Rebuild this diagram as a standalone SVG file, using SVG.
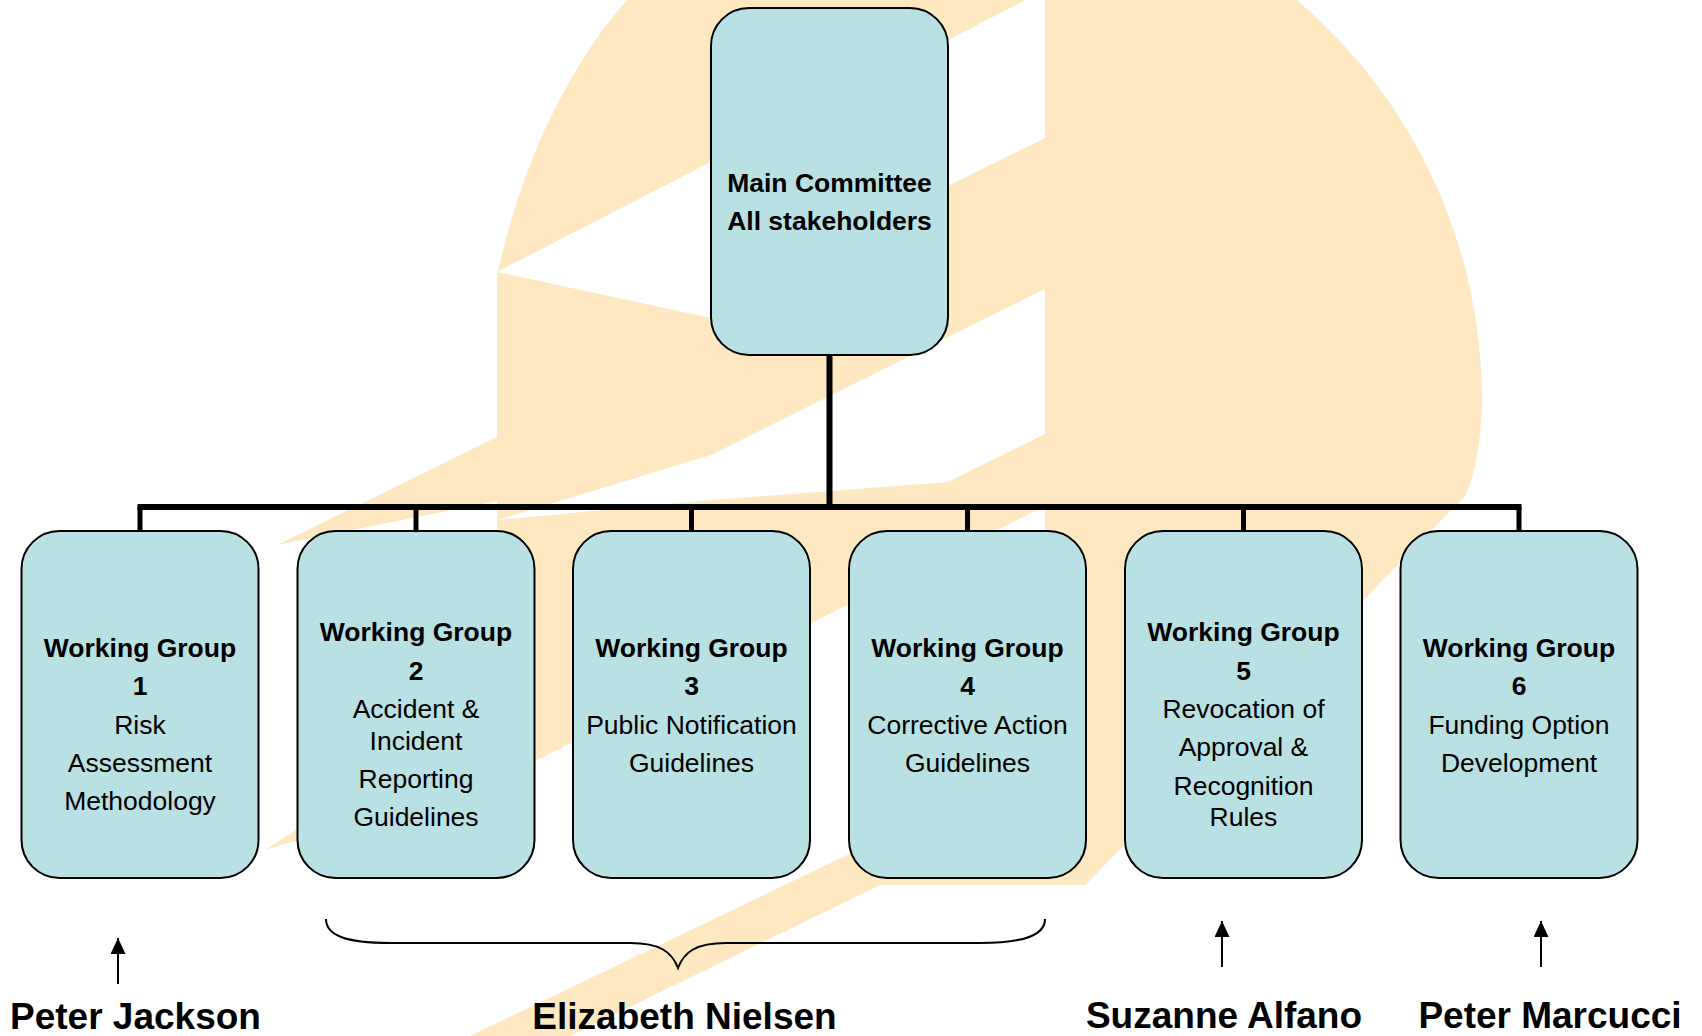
<svg xmlns="http://www.w3.org/2000/svg" width="1702" height="1036" viewBox="0 0 1702 1036">
<defs>
<style>
.wm{fill:#FDE8C2;stroke:none}
.wb{fill:#FFFFFF;stroke:none}
.box{fill:#B9E0E3;stroke:#000;stroke-width:2}
.t{font-family:"Liberation Sans",Arial,sans-serif;font-size:26.5px;text-anchor:middle;fill:#000}
.bd{font-weight:bold}
.nm{font-family:"Liberation Sans",Arial,sans-serif;font-size:37px;font-weight:bold;text-anchor:middle;fill:#000}
.ln{stroke:#000;fill:none}
</style>
<marker id="ah" viewBox="0 0 16 15" refX="16" refY="7.5" markerWidth="16" markerHeight="15" orient="auto" markerUnits="userSpaceOnUse">
<path d="M0,0 L16,7.5 L0,15 Z" fill="#000"/>
</marker>
</defs>
<rect width="1702" height="1036" fill="#FFFFFF"/>
<g id="watermark">
<path class="wm" d="M627,0 L1297,0 A525,525 0 0 1 1482,400 C1481,440 1476,470 1466,495 L1100,870 L1085,885 L1045,885 L1045,506 L497,780 L497,276 C520,170 565,70 627,0 Z"/>
<polygon class="wb" points="497,272 1045,-10 1045,138 948,186 711,318"/>
<polygon class="wb" points="497,520 711,455 948,337 1045,289 1045,434 948,482 711,500"/>
<polygon class="wm" points="277,545 497,437 497,501"/>
<polygon class="wm" points="265,850 497,700 497,780"/>
<polygon class="wm" points="470,1036 1045,760 1045,885 880,885 570,1036"/>
</g>
<g id="connectors">
<line class="ln" x1="829.5" y1="355" x2="829.5" y2="507" stroke-width="6"/>
<line class="ln" x1="137.5" y1="507" x2="1521.5" y2="507" stroke-width="6"/>
<line class="ln" x1="140" y1="507" x2="140" y2="531" stroke-width="5"/>
<line class="ln" x1="416" y1="507" x2="416" y2="531" stroke-width="5"/>
<line class="ln" x1="691.5" y1="507" x2="691.5" y2="531" stroke-width="5"/>
<line class="ln" x1="967.5" y1="507" x2="967.5" y2="531" stroke-width="5"/>
<line class="ln" x1="1243.5" y1="507" x2="1243.5" y2="531" stroke-width="5"/>
<line class="ln" x1="1519" y1="507" x2="1519" y2="531" stroke-width="5"/>
</g>
<g id="main-committee">
<rect class="box" x="711" y="8" width="237" height="347" rx="38" ry="38"/>
<text class="t bd" x="829.5" y="192">Main Committee</text>
<text class="t bd" x="829.5" y="230">All stakeholders</text>
</g>
<g id="wg1">
<rect class="box" x="21.5" y="531" width="237" height="347" rx="38" ry="38"/>
<text class="t bd" x="140" y="657">Working Group</text>
<text class="t bd" x="140" y="695">1</text>
<text class="t" x="140" y="734">Risk</text>
<text class="t" x="140" y="772">Assessment</text>
<text class="t" x="140" y="810">Methodology</text>
</g>
<g id="wg2">
<rect class="box" x="297.5" y="531" width="237" height="347" rx="38" ry="38"/>
<text class="t bd" x="416" y="641">Working Group</text>
<text class="t bd" x="416" y="680">2</text>
<text class="t" x="416" y="718">Accident &amp;</text>
<text class="t" x="416" y="750">Incident</text>
<text class="t" x="416" y="788">Reporting</text>
<text class="t" x="416" y="826">Guidelines</text>
</g>
<g id="wg3">
<rect class="box" x="573" y="531" width="237" height="347" rx="38" ry="38"/>
<text class="t bd" x="691.5" y="657">Working Group</text>
<text class="t bd" x="691.5" y="695">3</text>
<text class="t" x="691.5" y="734">Public Notification</text>
<text class="t" x="691.5" y="772">Guidelines</text>
</g>
<g id="wg4">
<rect class="box" x="849" y="531" width="237" height="347" rx="38" ry="38"/>
<text class="t bd" x="967.5" y="657">Working Group</text>
<text class="t bd" x="967.5" y="695">4</text>
<text class="t" x="967.5" y="734">Corrective Action</text>
<text class="t" x="967.5" y="772">Guidelines</text>
</g>
<g id="wg5">
<rect class="box" x="1125" y="531" width="237" height="347" rx="38" ry="38"/>
<text class="t bd" x="1243.5" y="641">Working Group</text>
<text class="t bd" x="1243.5" y="680">5</text>
<text class="t" x="1243.5" y="718">Revocation of</text>
<text class="t" x="1243.5" y="756">Approval &amp;</text>
<text class="t" x="1243.5" y="795">Recognition</text>
<text class="t" x="1243.5" y="826">Rules</text>
</g>
<g id="wg6">
<rect class="box" x="1400.5" y="531" width="237" height="347" rx="38" ry="38"/>
<text class="t bd" x="1519" y="657">Working Group</text>
<text class="t bd" x="1519" y="695">6</text>
<text class="t" x="1519" y="734">Funding Option</text>
<text class="t" x="1519" y="772">Development</text>
</g>
<g id="assignments">
<line class="ln" x1="118" y1="984" x2="118" y2="938" stroke-width="2" marker-end="url(#ah)"/>
<line class="ln" x1="1222" y1="967" x2="1222" y2="921" stroke-width="2" marker-end="url(#ah)"/>
<line class="ln" x1="1541" y1="967" x2="1541" y2="921" stroke-width="2" marker-end="url(#ah)"/>
<path class="ln" stroke-width="2" d="M326,919 C326,935 345,943 390,943 L630,943 C660,943 672,952 678,968 C684,952 696,943 726,943 L980,943 C1025,943 1045,935 1045,919"/>
<text class="nm" x="135.5" y="1029">Peter Jackson</text>
<text class="nm" x="684.5" y="1029">Elizabeth Nielsen</text>
<text class="nm" x="1224" y="1028">Suzanne Alfano</text>
<text class="nm" x="1550" y="1028">Peter Marcucci</text>
</g>
</svg>
